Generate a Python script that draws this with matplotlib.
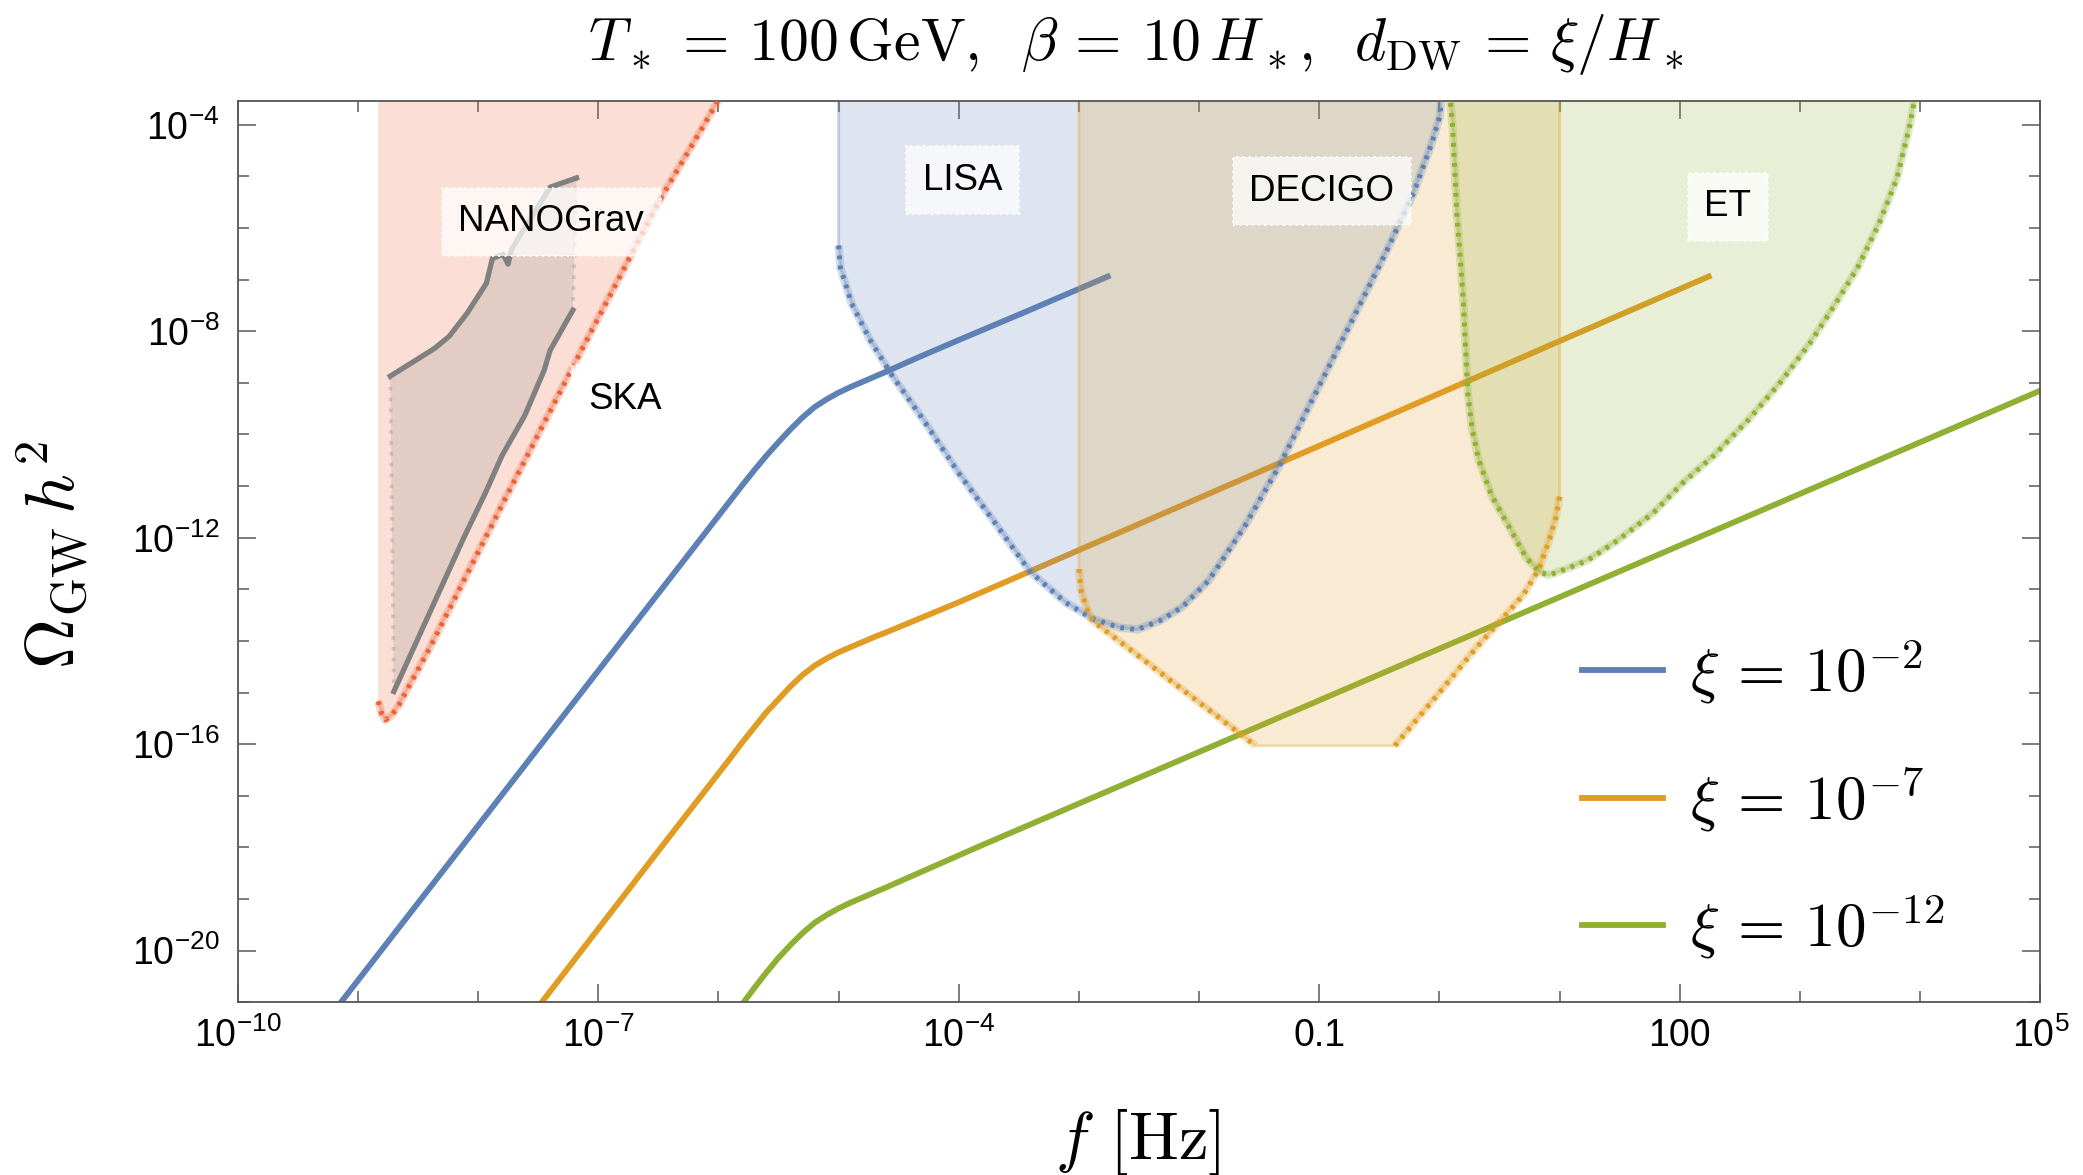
import numpy as np
import matplotlib
matplotlib.use("Agg")
import matplotlib.pyplot as plt
from matplotlib import font_manager
from matplotlib.ticker import FixedLocator, NullFormatter


def pick_font(names):
    for name in names:
        try:
            font_manager.findfont(font_manager.FontProperties(family=name),
                                  fallback_to_default=False)
            return name
        except ValueError:
            pass
    return "DejaVu Sans"


# -------------------- fonts --------------------
TICK_FONT = pick_font(["Liberation Sans Narrow", "Liberation Sans"])
plt.rcParams["mathtext.fontset"] = "cm"
plt.rcParams["mathtext.rm"] = TICK_FONT
plt.rcParams["mathtext.it"] = TICK_FONT + ":italic"
plt.rcParams["mathtext.bf"] = TICK_FONT + ":bold"
LABEL_FAMILY = ["Liberation Sans", "DejaVu Sans"]
SERIF = "cmr10"

# -------------------- colours --------------------
BLUE = "#5e81b5"
ORANGE = "#e19c24"
GREEN = "#8fb032"
RED = "#eb6235"
GRAY = "#808080"

# -------------------- data (log10 f [Hz], log10 Omega h^2) --------------------
# GW spectra for three wall thicknesses
xi2_logf = [-9.14, -8.0, -7.0, -6.0, -5.9, -5.8, -5.7, -5.6, -5.5, -5.4, -5.3, -5.2, -5.1,
            -5.0, -4.9, -4.8, -4.7, -4.6, -4.35, -4.0, -3.44, -3.0, -2.76]
xi2_logom = [-21.0, -17.58, -14.58, -11.58, -11.28, -10.98, -10.69, -10.41, -10.15, -9.90,
             -9.67, -9.47, -9.32, -9.19, -9.08, -8.98, -8.88, -8.78, -8.52, -8.17, -7.62,
             -7.18, -6.94]

xi7_logf = [-7.47, -6.5, -6.0, -5.9, -5.8, -5.7, -5.6, -5.5, -5.4, -5.3, -5.2, -5.1, -5.0,
            -4.9, -4.8, -4.7, -4.6, -4.0, -3.0, -1.0, 1.0, 2.24]
xi7_logom = [-21.0, -18.07, -16.57, -16.27, -15.96, -15.67, -15.38, -15.13, -14.88, -14.66,
             -14.48, -14.34, -14.22, -14.12, -14.02, -13.92, -13.83, -13.25, -12.24, -10.22,
             -8.19, -6.94]

xi12_logf = [-5.79, -5.7, -5.6, -5.5, -5.4, -5.3, -5.2, -5.1, -5.0, -4.9, -4.8, -4.7, -4.6,
             -4.24, -3.82, -2.0, 0.0, 2.0, 4.0, 5.0]
xi12_logom = [-21.0, -20.72, -20.42, -20.14, -19.89, -19.66, -19.46, -19.31, -19.18, -19.07,
              -18.97, -18.87, -18.77, -18.40, -17.97, -16.15, -14.15, -12.15, -10.15, -9.15]

spectra_labels = [r"$\xi$ = $10^{-2}$", r"$\xi$ = $10^{-7}$", r"$\xi$ = $10^{-12}$"]

# SKA power-law sensitivity
ska_logf = [-8.83, -8.80, -8.77, -8.72, -8.66, -8.40, -7.77, -7.13, -6.49, -6.03, -5.88]
ska_logom = [-15.17, -15.42, -15.53, -15.45, -15.25, -14.13, -11.23, -8.33, -5.47, -3.65, -3.0]

# NANOGrav band (upper and lower edges)
nano_up_logf = [-8.73, -8.53, -8.36, -8.24, -8.09, -7.93, -7.88, -7.79, -7.75, -7.72,
                -7.65, -7.57, -7.40, -7.18]
nano_up_logom = [-8.87, -8.58, -8.33, -8.10, -7.65, -7.07, -6.59, -6.51, -6.70, -6.41,
                 -6.14, -5.85, -5.21, -5.03]
nano_lo_logf = [-8.70, -8.12, -7.94, -7.80, -7.61, -7.45, -7.40, -7.21]
nano_lo_logom = [-14.98, -12.01, -11.14, -10.41, -9.63, -8.76, -8.37, -7.59]

# LISA sensitivity
lisa_logf = [-5.0, -4.985, -4.892, -4.743, -4.557, -4.297, -4.0, -3.703, -3.406, -3.109,
             -2.886, -2.663, -2.514, -2.328, -2.143, -1.92, -1.623, -1.326, -1.028, -0.731,
             -0.434, -0.211, -0.063, 0.004, 0.03]
lisa_logom = [-6.34, -6.77, -7.46, -8.15, -8.85, -9.71, -10.75, -11.70, -12.66, -13.26,
              -13.57, -13.74, -13.78, -13.61, -13.35, -12.83, -11.79, -10.58, -9.19, -7.81,
              -6.42, -5.30, -4.35, -3.83, -3.0]

# DECIGO sensitivity (left wing, flat floor, right wing)
decigo_left_logf = [-3.0, -2.98, -2.93, -2.886, -1.53]
decigo_left_logom = [-12.61, -13.05, -13.40, -13.61, -16.03]
decigo_right_logf = [-0.371, 0.0, 0.3, 0.55, 0.70, 0.83, 0.92, 0.97, 1.0]
decigo_right_logom = [-16.03, -15.0, -14.15, -13.5, -13.1, -12.6, -12.0, -11.6, -11.2]

# ET sensitivity
et_logf = [0.085, 0.090, 0.108, 0.127, 0.144, 0.173, 0.199, 0.217, 0.235, 0.271, 0.325,
           0.434, 0.579, 0.724, 0.833, 0.905, 1.050, 1.232, 1.485, 1.775, 2.029, 2.283,
           2.573, 2.827, 3.080, 3.298, 3.479, 3.661, 3.806, 3.915, 3.951, 3.98]
et_logom = [-3.0, -3.54, -4.00, -4.86, -5.73, -6.60, -7.46, -8.33, -9.19, -9.89, -10.49,
            -11.19, -11.79, -12.40, -12.66, -12.73, -12.61, -12.44, -12.05, -11.53, -10.93, -10.41,
            -9.71, -9.02, -8.24, -7.46, -6.77, -5.90, -5.04, -4.00, -3.54, -3.0]

# experiment labels: name, log10 f, log10 Omega (baseline)
exp_names = ["NANOGrav", "SKA", "LISA", "DECIGO", "ET"]
exp_logf = [-7.39, -6.78, -3.97, -0.98, 2.40]
exp_logom = [-6.06, -9.50, -5.26, -5.47, -5.77]

TOP = -3.0  # regions are open towards large Omega


def pw(v):
    return 10.0 ** np.asarray(v, dtype=float)


def sensitivity(ax, lf, lo, color, z=3):
    # pale band under a dotted curve
    ax.plot(pw(lf), pw(lo), color=color, lw=6, alpha=0.25, solid_capstyle="butt", zorder=z)
    ax.plot(pw(lf), pw(lo), color=color, lw=3.6, linestyle=(0, (0.75, 1.25)),
            dash_capstyle="butt", zorder=z + 0.1)


def region(ax, lf, lo, color):
    ax.fill(pw(lf), pw(lo), facecolor=color, alpha=0.2, edgecolor="none", zorder=2)
    ax.plot(pw(lf), pw(lo), color=color, lw=2.2, alpha=0.3, zorder=2.2)


fig = plt.figure(figsize=(20.83, 11.75), dpi=100)
ax = fig.add_axes([0.11407, 0.14698, 0.86548, 0.76706])
ax.set_xscale("log")
ax.set_yscale("log")

# spectra (drawn beneath the sensitivity regions)
for lf, lo, c, lab in [(xi2_logf, xi2_logom, BLUE, spectra_labels[0]),
                       (xi7_logf, xi7_logom, ORANGE, spectra_labels[1]),
                       (xi12_logf, xi12_logom, GREEN, spectra_labels[2])]:
    ax.plot(pw(lf), pw(lo), color=c, lw=4.2, solid_joinstyle="round", label=lab, zorder=1.5)

# SKA
region(ax, ska_logf + [ska_logf[0]], ska_logom + [TOP], RED)
sensitivity(ax, ska_logf, ska_logom, RED)

# NANOGrav band
nano_f = nano_up_logf + nano_lo_logf[::-1]
nano_o = nano_up_logom + nano_lo_logom[::-1]
ax.fill(pw(nano_f), pw(nano_o), facecolor=GRAY, alpha=0.2, edgecolor="none", zorder=2.3)
for i in (0, -1):
    ax.plot(pw([nano_up_logf[i], nano_lo_logf[i]]), pw([nano_up_logom[i], nano_lo_logom[i]]),
            color=GRAY, lw=2.6, alpha=0.3, linestyle=(0, (1, 2)), zorder=2.3)
ax.plot(pw(nano_up_logf), pw(nano_up_logom), color=GRAY, lw=3.8, zorder=2.6)
ax.plot(pw(nano_lo_logf), pw(nano_lo_logom), color=GRAY, lw=3.8, zorder=2.6)

# LISA
region(ax, [lisa_logf[0]] + lisa_logf + [lisa_logf[0]], [TOP] + lisa_logom + [TOP], BLUE)
sensitivity(ax, lisa_logf, lisa_logom, BLUE)

# DECIGO
dec_f = [decigo_left_logf[0]] + decigo_left_logf + decigo_right_logf + [decigo_right_logf[-1]]
dec_o = [TOP] + decigo_left_logom + decigo_right_logom + [TOP]
region(ax, dec_f + [dec_f[0]], dec_o + [dec_o[0]], ORANGE)
sensitivity(ax, decigo_left_logf, decigo_left_logom, ORANGE)
sensitivity(ax, decigo_right_logf, decigo_right_logom, ORANGE)

# ET
region(ax, et_logf, et_logom, GREEN)
sensitivity(ax, et_logf, et_logom, GREEN)

# experiment labels
box = dict(boxstyle="square,pad=0.45", facecolor=(1, 1, 1, 0.72), edgecolor=(1, 1, 1, 0.9),
           linewidth=1.5, linestyle=(0, (1, 2)))
for name, lf, lo in zip(exp_names, exp_logf, exp_logom):
    ax.text(10.0 ** lf, 10.0 ** lo, name, fontsize=26.5, family=LABEL_FAMILY,
            ha="center", va="baseline", bbox=box, zorder=4)

# axes
ax.set_xlim(1e-10, 1e5)
ax.set_ylim(1e-21, 10 ** -3.54)

x_major = [1e-10, 1e-7, 1e-4, 1e-1, 1e2, 1e5]
x_major_labels = [r"$10^{-10}$", r"$10^{-7}$", r"$10^{-4}$", "0.1", "100", r"$10^{5}$"]
x_minor = [10.0 ** k for k in range(-10, 6)]
y_major = [1e-20, 1e-16, 1e-12, 1e-8, 1e-4]
y_major_labels = [r"$10^{-20}$", r"$10^{-16}$", r"$10^{-12}$", r"$10^{-8}$", r"$10^{-4}$"]
y_minor = [10.0 ** k for k in range(-21, -3)]

ax.xaxis.set_major_locator(FixedLocator(x_major))
ax.xaxis.set_minor_locator(FixedLocator(x_minor))
ax.yaxis.set_major_locator(FixedLocator(y_major))
ax.yaxis.set_minor_locator(FixedLocator(y_minor))
ax.xaxis.set_minor_formatter(NullFormatter())
ax.yaxis.set_minor_formatter(NullFormatter())
ax.set_xticklabels(x_major_labels, fontsize=27, family=TICK_FONT, math_fontfamily="custom")
ax.set_yticklabels(y_major_labels, fontsize=27, family=TICK_FONT, math_fontfamily="custom")

ax.tick_params(which="both", direction="in", top=True, right=True, color="#666666", width=1.2)
ax.tick_params(which="major", length=13)
ax.tick_params(which="minor", length=8)
ax.tick_params(axis="x", pad=11)
ax.tick_params(axis="y", pad=13)
for s in ax.spines.values():
    s.set_color("#555555")
    s.set_linewidth(1.3)

# legend
leg = ax.legend(loc="center left", bbox_to_anchor=(1581.7 / 2083, 1 - 799 / 1175),
                bbox_transform=fig.transFigure, frameon=False,
                prop=dict(family=SERIF, size=44),
                handlelength=1.33, handletextpad=0.45, labelspacing=0.95,
                borderpad=0, borderaxespad=0)
for t in leg.get_texts():
    t.set_math_fontfamily("cm")

# title and axis labels
fig.text(1135.5 / 2083, 1 - 60 / 1175,
         r"$T_*$ = $100\,\mathrm{GeV}$,  $\beta$ = $10\,H_*$,  $d_{\rm DW}$ = $\xi/H_*$",
         fontsize=43, family=SERIF, math_fontfamily="cm", ha="center", va="baseline")
fig.text(1138 / 2083, 1 - 1159 / 1175, r"$f$ [Hz]",
         fontsize=48, family=SERIF, math_fontfamily="cm", ha="center", va="baseline")
fig.text(52 / 2083, 1 - 555 / 1175, r"$\Omega_{\rm GW}\,h^2$",
         fontsize=50, math_fontfamily="cm", ha="center", va="center", rotation=90)

fig.savefig("out.png", dpi=100)
